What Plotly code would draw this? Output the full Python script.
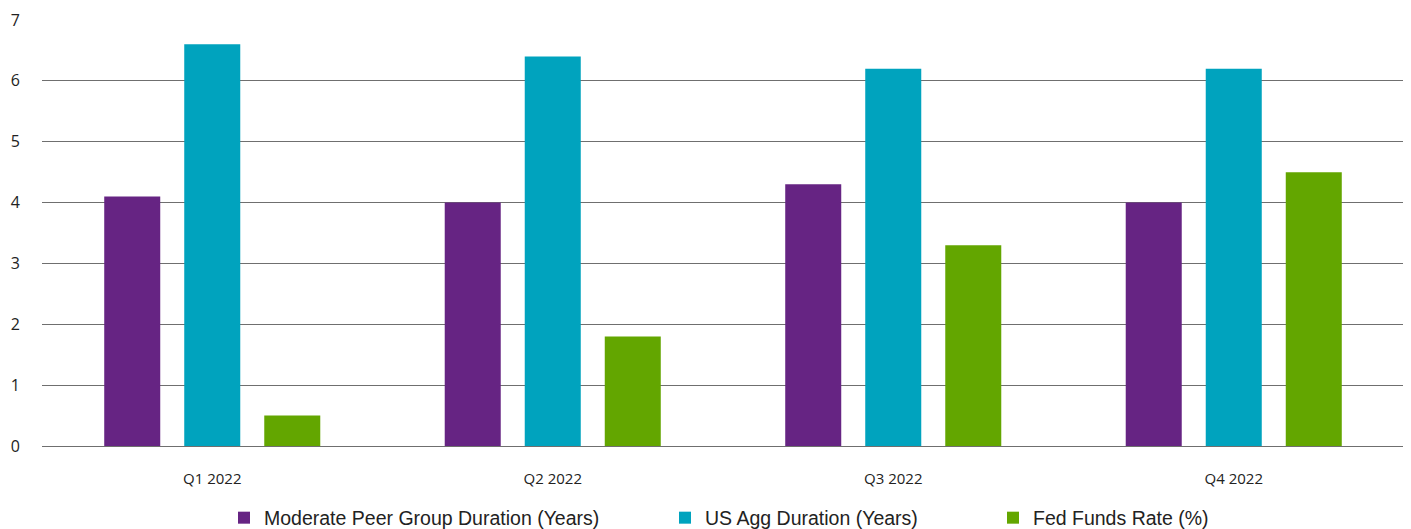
import plotly.graph_objects as go

categories = ["Q1 2022", "Q2 2022", "Q3 2022", "Q4 2022"]
moderate_peer = [4.1, 4.0, 4.3, 4.0]
us_agg = [6.6, 6.4, 6.2, 6.2]
fed_funds = [0.5, 1.8, 3.3, 4.5]
series_names = ["Moderate Peer Group Duration (Years)", "US Agg Duration (Years)", "Fed Funds Rate (%)"]
colors = ["#662483", "#00A3BE", "#63A600"]
y_ticks = [0, 1, 2, 3, 4, 5, 6, 7]

fig = go.Figure()
legend_ids = ["legend", "legend2", "legend3"]
for i, (name, vals) in enumerate(zip(series_names, [moderate_peer, us_agg, fed_funds])):
    fig.add_trace(go.Bar(
        x=categories, y=vals, name=name, marker=dict(color=colors[i], line=dict(width=0)),
        legend=legend_ids[i], showlegend=True,
    ))

# page body has an 8px offset; size the figure to fit the window
OFF = 8
W, H = 1411 - OFF, 529 - OFF
legend_common = dict(orientation="h", yanchor="middle", y=1 - (518 - OFF) / H, xanchor="left",
                     xref="container", yref="container",
                     font=dict(family="Liberation Sans, Arial, sans-serif", size=19.5, color="#222"),
                     bgcolor="rgba(0,0,0,0)", itemwidth=30)

fig.update_layout(
    width=W, height=H,
    margin=dict(l=42 - OFF, r=1411 - 1404, t=20 - OFF, b=529 - 446, autoexpand=False),
    plot_bgcolor="white", paper_bgcolor="white",
    barmode="group", bargap=0.295, bargroupgap=0.3,
    showlegend=True,
    legend=dict(x=(224 - OFF) / W, **legend_common),
    legend2=dict(x=(665 - OFF) / W, **legend_common),
    legend3=dict(x=(993 - OFF) / W, **legend_common),
    font=dict(family="Open Sans, sans-serif", size=15, color="#222"),
)
fig.update_yaxes(range=[0, 7], tickvals=y_ticks, showgrid=True, gridcolor="#6f6f6f", gridwidth=1,
                 zeroline=True, zerolinecolor="#6f6f6f", zerolinewidth=1, automargin=False,
                 ticklabelstandoff=21, tickfont=dict(size=16), layer="below traces")
fig.update_xaxes(showline=False, ticks="", ticklabelstandoff=22, automargin=False, tickfont=dict(size=15))

fig.write_html("out.html")
